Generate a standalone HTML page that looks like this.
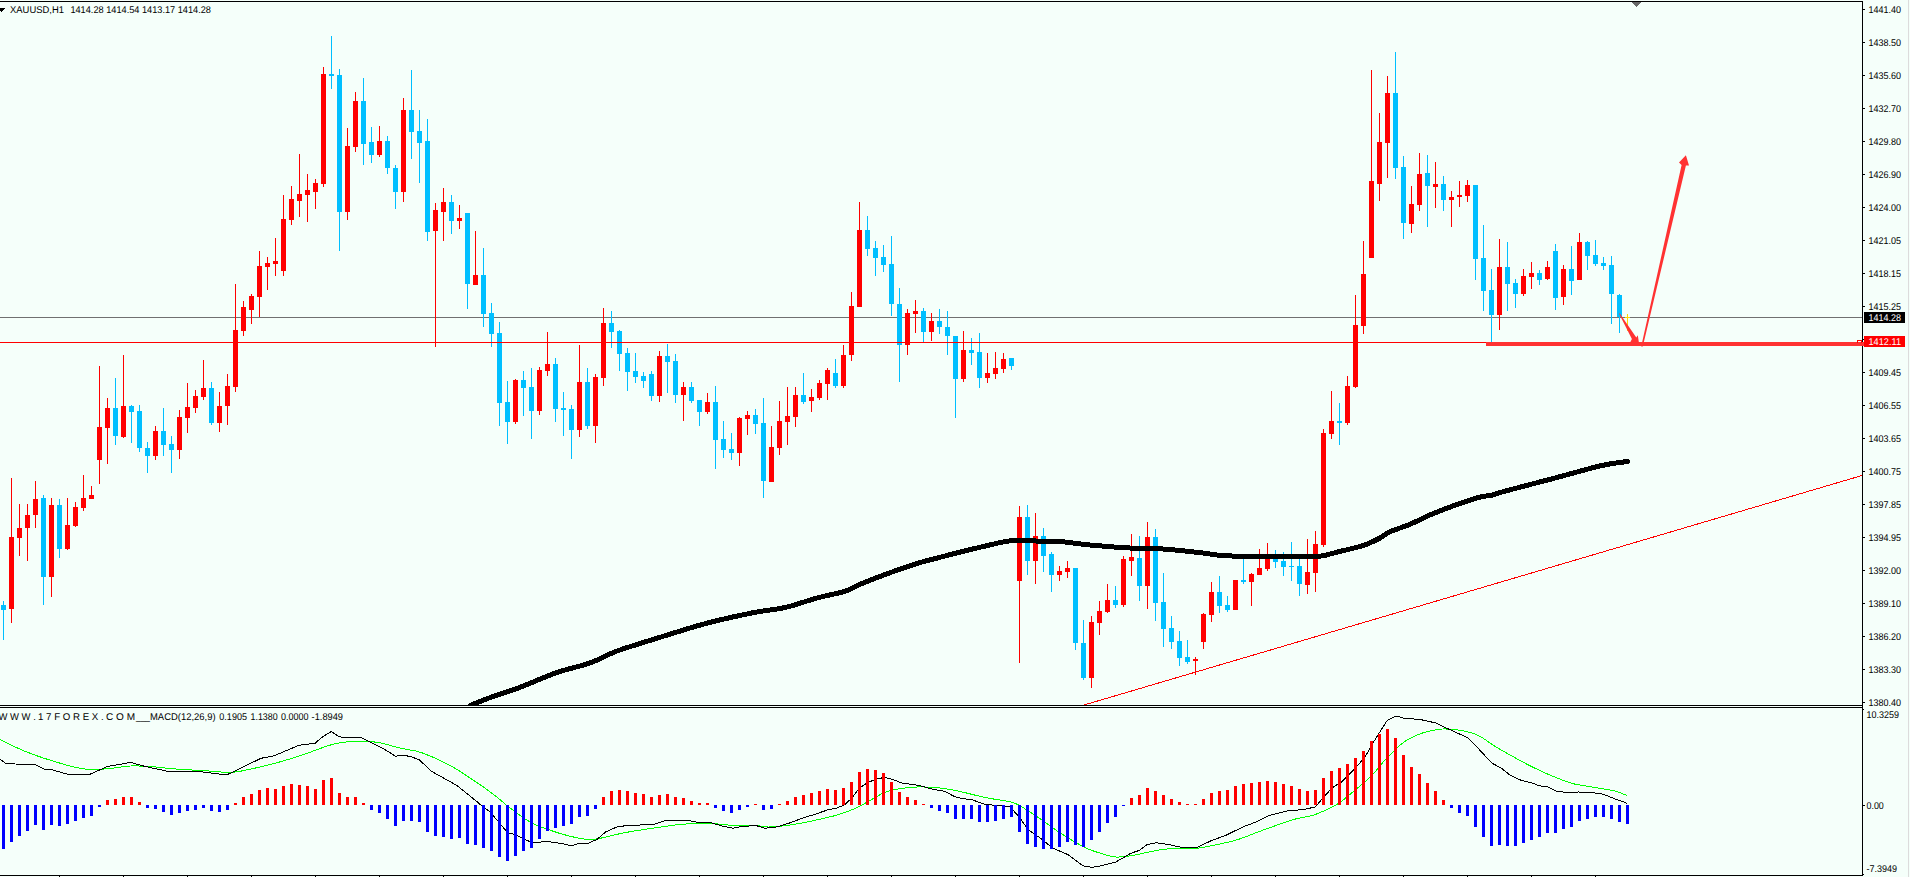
<!DOCTYPE html><html><head><meta charset="utf-8"><title>XAUUSD,H1</title>
<style>html,body{margin:0;padding:0;background:#F5FFFA;overflow:hidden}svg{display:block}text{font-family:"Liberation Sans",sans-serif;font-size:9.8px;text-rendering:geometricPrecision;fill:#000}</style></head><body>
<svg width="1910" height="877" viewBox="0 0 1910 877">
<rect width="1910" height="877" fill="#F5FFFA"/>
<g shape-rendering="crispEdges" fill="#000">
<rect x="0" y="1" width="1863" height="1"/>
<rect x="1862" y="1" width="1" height="875"/>
<rect x="0" y="705" width="1863" height="1"/>
<rect x="0" y="707" width="1863" height="1"/>
<rect x="0" y="875" width="1863" height="1"/>
<rect x="59" y="876" width="1" height="1"/>
<rect x="123" y="876" width="1" height="1"/>
<rect x="187" y="876" width="1" height="1"/>
<rect x="251" y="876" width="1" height="1"/>
<rect x="315" y="876" width="1" height="1"/>
<rect x="379" y="876" width="1" height="1"/>
<rect x="443" y="876" width="1" height="1"/>
<rect x="507" y="876" width="1" height="1"/>
<rect x="571" y="876" width="1" height="1"/>
<rect x="635" y="876" width="1" height="1"/>
<rect x="699" y="876" width="1" height="1"/>
<rect x="763" y="876" width="1" height="1"/>
<rect x="827" y="876" width="1" height="1"/>
<rect x="891" y="876" width="1" height="1"/>
<rect x="955" y="876" width="1" height="1"/>
<rect x="1019" y="876" width="1" height="1"/>
<rect x="1083" y="876" width="1" height="1"/>
<rect x="1147" y="876" width="1" height="1"/>
<rect x="1211" y="876" width="1" height="1"/>
<rect x="1275" y="876" width="1" height="1"/>
<rect x="1339" y="876" width="1" height="1"/>
<rect x="1403" y="876" width="1" height="1"/>
<rect x="1467" y="876" width="1" height="1"/>
<rect x="1531" y="876" width="1" height="1"/>
<rect x="1595" y="876" width="1" height="1"/>
<rect x="1863" y="9" width="2" height="1"/>
<rect x="1863" y="42" width="2" height="1"/>
<rect x="1863" y="75" width="2" height="1"/>
<rect x="1863" y="108" width="2" height="1"/>
<rect x="1863" y="141" width="2" height="1"/>
<rect x="1863" y="174" width="2" height="1"/>
<rect x="1863" y="207" width="2" height="1"/>
<rect x="1863" y="240" width="2" height="1"/>
<rect x="1863" y="273" width="2" height="1"/>
<rect x="1863" y="306" width="2" height="1"/>
<rect x="1863" y="372" width="2" height="1"/>
<rect x="1863" y="405" width="2" height="1"/>
<rect x="1863" y="438" width="2" height="1"/>
<rect x="1863" y="471" width="2" height="1"/>
<rect x="1863" y="504" width="2" height="1"/>
<rect x="1863" y="537" width="2" height="1"/>
<rect x="1863" y="570" width="2" height="1"/>
<rect x="1863" y="603" width="2" height="1"/>
<rect x="1863" y="636" width="2" height="1"/>
<rect x="1863" y="669" width="2" height="1"/>
<rect x="1863" y="702" width="2" height="1"/>
<rect x="1863" y="339" width="2" height="1"/>
<rect x="1863" y="805" width="2" height="1"/>
<rect x="1863" y="874" width="1" height="1"/>
<rect x="1863" y="709" width="1" height="1"/>
</g>
<rect x="1908" y="0" width="1" height="877" fill="#dcdcdc" shape-rendering="crispEdges"/>
<g shape-rendering="crispEdges">
<rect x="0" y="317" width="1862" height="1" fill="#707070"/>
</g>
<line x1="1084" y1="705" x2="1862" y2="475.5" stroke="#FF0000" stroke-width="1" shape-rendering="crispEdges"/>
<g shape-rendering="crispEdges">
<rect x="3" y="601" width="1" height="39" fill="#00BFFF"/>
<rect x="1" y="605" width="5" height="5" fill="#00BFFF"/>
<rect x="11" y="478" width="1" height="145" fill="#FF0000"/>
<rect x="9" y="537" width="5" height="72" fill="#FF0000"/>
<rect x="19" y="504" width="1" height="52" fill="#FF0000"/>
<rect x="17" y="528" width="5" height="10" fill="#FF0000"/>
<rect x="27" y="504" width="1" height="57" fill="#FF0000"/>
<rect x="25" y="515" width="5" height="13" fill="#FF0000"/>
<rect x="35" y="481" width="1" height="47" fill="#FF0000"/>
<rect x="33" y="499" width="5" height="16" fill="#FF0000"/>
<rect x="43" y="495" width="1" height="110" fill="#00BFFF"/>
<rect x="41" y="498" width="5" height="79" fill="#00BFFF"/>
<rect x="51" y="498" width="1" height="99" fill="#FF0000"/>
<rect x="49" y="505" width="5" height="72" fill="#FF0000"/>
<rect x="59" y="499" width="1" height="59" fill="#00BFFF"/>
<rect x="57" y="505" width="5" height="44" fill="#00BFFF"/>
<rect x="67" y="498" width="1" height="52" fill="#FF0000"/>
<rect x="65" y="525" width="5" height="24" fill="#FF0000"/>
<rect x="75" y="502" width="1" height="25" fill="#FF0000"/>
<rect x="73" y="507" width="5" height="19" fill="#FF0000"/>
<rect x="83" y="475" width="1" height="36" fill="#FF0000"/>
<rect x="81" y="498" width="5" height="10" fill="#FF0000"/>
<rect x="91" y="486" width="1" height="13" fill="#FF0000"/>
<rect x="89" y="495" width="5" height="4" fill="#FF0000"/>
<rect x="99" y="366" width="1" height="118" fill="#FF0000"/>
<rect x="97" y="427" width="5" height="33" fill="#FF0000"/>
<rect x="107" y="398" width="1" height="66" fill="#FF0000"/>
<rect x="105" y="408" width="5" height="20" fill="#FF0000"/>
<rect x="115" y="378" width="1" height="67" fill="#00BFFF"/>
<rect x="113" y="408" width="5" height="28" fill="#00BFFF"/>
<rect x="123" y="355" width="1" height="83" fill="#FF0000"/>
<rect x="121" y="406" width="5" height="31" fill="#FF0000"/>
<rect x="131" y="405" width="1" height="38" fill="#00BFFF"/>
<rect x="129" y="406" width="5" height="6" fill="#00BFFF"/>
<rect x="139" y="405" width="1" height="47" fill="#00BFFF"/>
<rect x="137" y="411" width="5" height="37" fill="#00BFFF"/>
<rect x="147" y="442" width="1" height="31" fill="#00BFFF"/>
<rect x="145" y="448" width="5" height="8" fill="#00BFFF"/>
<rect x="155" y="426" width="1" height="34" fill="#FF0000"/>
<rect x="153" y="431" width="5" height="25" fill="#FF0000"/>
<rect x="163" y="408" width="1" height="48" fill="#00BFFF"/>
<rect x="161" y="431" width="5" height="14" fill="#00BFFF"/>
<rect x="171" y="436" width="1" height="37" fill="#00BFFF"/>
<rect x="169" y="444" width="5" height="6" fill="#00BFFF"/>
<rect x="179" y="410" width="1" height="49" fill="#FF0000"/>
<rect x="177" y="417" width="5" height="33" fill="#FF0000"/>
<rect x="187" y="383" width="1" height="50" fill="#FF0000"/>
<rect x="185" y="407" width="5" height="11" fill="#FF0000"/>
<rect x="195" y="390" width="1" height="23" fill="#FF0000"/>
<rect x="193" y="396" width="5" height="12" fill="#FF0000"/>
<rect x="203" y="360" width="1" height="40" fill="#FF0000"/>
<rect x="201" y="388" width="5" height="9" fill="#FF0000"/>
<rect x="211" y="382" width="1" height="43" fill="#00BFFF"/>
<rect x="209" y="388" width="5" height="35" fill="#00BFFF"/>
<rect x="219" y="392" width="1" height="40" fill="#FF0000"/>
<rect x="217" y="406" width="5" height="17" fill="#FF0000"/>
<rect x="227" y="374" width="1" height="51" fill="#FF0000"/>
<rect x="225" y="386" width="5" height="20" fill="#FF0000"/>
<rect x="235" y="284" width="1" height="108" fill="#FF0000"/>
<rect x="233" y="330" width="5" height="57" fill="#FF0000"/>
<rect x="243" y="301" width="1" height="35" fill="#FF0000"/>
<rect x="241" y="307" width="5" height="24" fill="#FF0000"/>
<rect x="251" y="294" width="1" height="30" fill="#FF0000"/>
<rect x="249" y="296" width="5" height="14" fill="#FF0000"/>
<rect x="259" y="251" width="1" height="66" fill="#FF0000"/>
<rect x="257" y="266" width="5" height="31" fill="#FF0000"/>
<rect x="267" y="257" width="1" height="33" fill="#FF0000"/>
<rect x="265" y="263" width="5" height="4" fill="#FF0000"/>
<rect x="275" y="238" width="1" height="38" fill="#FF0000"/>
<rect x="273" y="261" width="5" height="3" fill="#FF0000"/>
<rect x="283" y="195" width="1" height="81" fill="#FF0000"/>
<rect x="281" y="219" width="5" height="52" fill="#FF0000"/>
<rect x="291" y="186" width="1" height="39" fill="#FF0000"/>
<rect x="289" y="199" width="5" height="21" fill="#FF0000"/>
<rect x="299" y="154" width="1" height="63" fill="#FF0000"/>
<rect x="297" y="194" width="5" height="7" fill="#FF0000"/>
<rect x="307" y="174" width="1" height="48" fill="#FF0000"/>
<rect x="305" y="190" width="5" height="5" fill="#FF0000"/>
<rect x="315" y="179" width="1" height="30" fill="#FF0000"/>
<rect x="313" y="183" width="5" height="9" fill="#FF0000"/>
<rect x="323" y="67" width="1" height="120" fill="#FF0000"/>
<rect x="321" y="74" width="5" height="110" fill="#FF0000"/>
<rect x="331" y="36" width="1" height="53" fill="#00BFFF"/>
<rect x="329" y="74" width="5" height="2" fill="#00BFFF"/>
<rect x="339" y="69" width="1" height="182" fill="#00BFFF"/>
<rect x="337" y="75" width="5" height="137" fill="#00BFFF"/>
<rect x="347" y="128" width="1" height="92" fill="#FF0000"/>
<rect x="345" y="146" width="5" height="66" fill="#FF0000"/>
<rect x="355" y="92" width="1" height="60" fill="#FF0000"/>
<rect x="353" y="101" width="5" height="46" fill="#FF0000"/>
<rect x="363" y="78" width="1" height="87" fill="#00BFFF"/>
<rect x="361" y="101" width="5" height="43" fill="#00BFFF"/>
<rect x="371" y="127" width="1" height="36" fill="#00BFFF"/>
<rect x="369" y="142" width="5" height="13" fill="#00BFFF"/>
<rect x="379" y="126" width="1" height="31" fill="#FF0000"/>
<rect x="377" y="141" width="5" height="14" fill="#FF0000"/>
<rect x="387" y="136" width="1" height="38" fill="#00BFFF"/>
<rect x="385" y="141" width="5" height="27" fill="#00BFFF"/>
<rect x="395" y="165" width="1" height="44" fill="#00BFFF"/>
<rect x="393" y="168" width="5" height="24" fill="#00BFFF"/>
<rect x="403" y="98" width="1" height="104" fill="#FF0000"/>
<rect x="401" y="110" width="5" height="82" fill="#FF0000"/>
<rect x="411" y="70" width="1" height="89" fill="#00BFFF"/>
<rect x="409" y="110" width="5" height="22" fill="#00BFFF"/>
<rect x="419" y="110" width="1" height="73" fill="#00BFFF"/>
<rect x="417" y="131" width="5" height="12" fill="#00BFFF"/>
<rect x="427" y="119" width="1" height="122" fill="#00BFFF"/>
<rect x="425" y="141" width="5" height="91" fill="#00BFFF"/>
<rect x="435" y="203" width="1" height="144" fill="#FF0000"/>
<rect x="433" y="210" width="5" height="21" fill="#FF0000"/>
<rect x="443" y="188" width="1" height="53" fill="#FF0000"/>
<rect x="441" y="202" width="5" height="10" fill="#FF0000"/>
<rect x="451" y="195" width="1" height="39" fill="#00BFFF"/>
<rect x="449" y="202" width="5" height="19" fill="#00BFFF"/>
<rect x="459" y="205" width="1" height="24" fill="#FF0000"/>
<rect x="457" y="218" width="5" height="3" fill="#FF0000"/>
<rect x="467" y="213" width="1" height="96" fill="#00BFFF"/>
<rect x="465" y="213" width="5" height="71" fill="#00BFFF"/>
<rect x="475" y="231" width="1" height="54" fill="#FF0000"/>
<rect x="473" y="275" width="5" height="10" fill="#FF0000"/>
<rect x="483" y="248" width="1" height="79" fill="#00BFFF"/>
<rect x="481" y="275" width="5" height="39" fill="#00BFFF"/>
<rect x="491" y="303" width="1" height="44" fill="#00BFFF"/>
<rect x="489" y="313" width="5" height="21" fill="#00BFFF"/>
<rect x="499" y="322" width="1" height="104" fill="#00BFFF"/>
<rect x="497" y="333" width="5" height="70" fill="#00BFFF"/>
<rect x="507" y="381" width="1" height="63" fill="#00BFFF"/>
<rect x="505" y="402" width="5" height="20" fill="#00BFFF"/>
<rect x="515" y="379" width="1" height="45" fill="#FF0000"/>
<rect x="513" y="380" width="5" height="42" fill="#FF0000"/>
<rect x="523" y="371" width="1" height="45" fill="#00BFFF"/>
<rect x="521" y="380" width="5" height="8" fill="#00BFFF"/>
<rect x="531" y="368" width="1" height="71" fill="#00BFFF"/>
<rect x="529" y="387" width="5" height="24" fill="#00BFFF"/>
<rect x="539" y="367" width="1" height="48" fill="#FF0000"/>
<rect x="537" y="370" width="5" height="41" fill="#FF0000"/>
<rect x="547" y="332" width="1" height="44" fill="#FF0000"/>
<rect x="545" y="364" width="5" height="7" fill="#FF0000"/>
<rect x="555" y="358" width="1" height="64" fill="#00BFFF"/>
<rect x="553" y="364" width="5" height="45" fill="#00BFFF"/>
<rect x="563" y="392" width="1" height="44" fill="#00BFFF"/>
<rect x="561" y="408" width="5" height="2" fill="#00BFFF"/>
<rect x="571" y="405" width="1" height="54" fill="#00BFFF"/>
<rect x="569" y="409" width="5" height="21" fill="#00BFFF"/>
<rect x="579" y="345" width="1" height="92" fill="#FF0000"/>
<rect x="577" y="382" width="5" height="48" fill="#FF0000"/>
<rect x="587" y="368" width="1" height="61" fill="#00BFFF"/>
<rect x="585" y="382" width="5" height="44" fill="#00BFFF"/>
<rect x="595" y="374" width="1" height="69" fill="#FF0000"/>
<rect x="593" y="377" width="5" height="49" fill="#FF0000"/>
<rect x="603" y="308" width="1" height="78" fill="#FF0000"/>
<rect x="601" y="323" width="5" height="55" fill="#FF0000"/>
<rect x="611" y="311" width="1" height="37" fill="#00BFFF"/>
<rect x="609" y="323" width="5" height="9" fill="#00BFFF"/>
<rect x="619" y="330" width="1" height="41" fill="#00BFFF"/>
<rect x="617" y="331" width="5" height="23" fill="#00BFFF"/>
<rect x="627" y="348" width="1" height="43" fill="#00BFFF"/>
<rect x="625" y="353" width="5" height="19" fill="#00BFFF"/>
<rect x="635" y="353" width="1" height="30" fill="#00BFFF"/>
<rect x="633" y="371" width="5" height="6" fill="#00BFFF"/>
<rect x="643" y="372" width="1" height="16" fill="#00BFFF"/>
<rect x="641" y="376" width="5" height="5" fill="#00BFFF"/>
<rect x="651" y="371" width="1" height="30" fill="#00BFFF"/>
<rect x="649" y="374" width="5" height="22" fill="#00BFFF"/>
<rect x="659" y="351" width="1" height="51" fill="#FF0000"/>
<rect x="657" y="356" width="5" height="40" fill="#FF0000"/>
<rect x="667" y="344" width="1" height="49" fill="#00BFFF"/>
<rect x="665" y="356" width="5" height="6" fill="#00BFFF"/>
<rect x="675" y="354" width="1" height="49" fill="#00BFFF"/>
<rect x="673" y="361" width="5" height="34" fill="#00BFFF"/>
<rect x="683" y="382" width="1" height="39" fill="#FF0000"/>
<rect x="681" y="387" width="5" height="8" fill="#FF0000"/>
<rect x="691" y="382" width="1" height="21" fill="#00BFFF"/>
<rect x="689" y="387" width="5" height="14" fill="#00BFFF"/>
<rect x="699" y="400" width="1" height="26" fill="#00BFFF"/>
<rect x="697" y="400" width="5" height="12" fill="#00BFFF"/>
<rect x="707" y="393" width="1" height="21" fill="#FF0000"/>
<rect x="705" y="402" width="5" height="10" fill="#FF0000"/>
<rect x="715" y="386" width="1" height="83" fill="#00BFFF"/>
<rect x="713" y="402" width="5" height="38" fill="#00BFFF"/>
<rect x="723" y="421" width="1" height="37" fill="#00BFFF"/>
<rect x="721" y="439" width="5" height="11" fill="#00BFFF"/>
<rect x="731" y="433" width="1" height="27" fill="#00BFFF"/>
<rect x="729" y="449" width="5" height="4" fill="#00BFFF"/>
<rect x="739" y="417" width="1" height="49" fill="#FF0000"/>
<rect x="737" y="418" width="5" height="35" fill="#FF0000"/>
<rect x="747" y="411" width="1" height="24" fill="#FF0000"/>
<rect x="745" y="415" width="5" height="4" fill="#FF0000"/>
<rect x="755" y="409" width="1" height="25" fill="#00BFFF"/>
<rect x="753" y="415" width="5" height="9" fill="#00BFFF"/>
<rect x="763" y="398" width="1" height="100" fill="#00BFFF"/>
<rect x="761" y="423" width="5" height="58" fill="#00BFFF"/>
<rect x="771" y="426" width="1" height="56" fill="#FF0000"/>
<rect x="769" y="447" width="5" height="35" fill="#FF0000"/>
<rect x="779" y="401" width="1" height="54" fill="#FF0000"/>
<rect x="777" y="421" width="5" height="27" fill="#FF0000"/>
<rect x="787" y="387" width="1" height="58" fill="#FF0000"/>
<rect x="785" y="416" width="5" height="6" fill="#FF0000"/>
<rect x="795" y="387" width="1" height="40" fill="#FF0000"/>
<rect x="793" y="395" width="5" height="22" fill="#FF0000"/>
<rect x="803" y="373" width="1" height="31" fill="#00BFFF"/>
<rect x="801" y="395" width="5" height="7" fill="#00BFFF"/>
<rect x="811" y="389" width="1" height="23" fill="#FF0000"/>
<rect x="809" y="397" width="5" height="4" fill="#FF0000"/>
<rect x="819" y="380" width="1" height="20" fill="#FF0000"/>
<rect x="817" y="383" width="5" height="15" fill="#FF0000"/>
<rect x="827" y="368" width="1" height="32" fill="#FF0000"/>
<rect x="825" y="370" width="5" height="14" fill="#FF0000"/>
<rect x="835" y="359" width="1" height="29" fill="#00BFFF"/>
<rect x="833" y="373" width="5" height="13" fill="#00BFFF"/>
<rect x="843" y="345" width="1" height="43" fill="#FF0000"/>
<rect x="841" y="355" width="5" height="31" fill="#FF0000"/>
<rect x="851" y="292" width="1" height="69" fill="#FF0000"/>
<rect x="849" y="306" width="5" height="49" fill="#FF0000"/>
<rect x="859" y="202" width="1" height="105" fill="#FF0000"/>
<rect x="857" y="230" width="5" height="77" fill="#FF0000"/>
<rect x="867" y="216" width="1" height="40" fill="#00BFFF"/>
<rect x="865" y="230" width="5" height="19" fill="#00BFFF"/>
<rect x="875" y="241" width="1" height="35" fill="#00BFFF"/>
<rect x="873" y="248" width="5" height="10" fill="#00BFFF"/>
<rect x="883" y="245" width="1" height="27" fill="#00BFFF"/>
<rect x="881" y="257" width="5" height="8" fill="#00BFFF"/>
<rect x="891" y="236" width="1" height="80" fill="#00BFFF"/>
<rect x="889" y="264" width="5" height="40" fill="#00BFFF"/>
<rect x="899" y="288" width="1" height="94" fill="#00BFFF"/>
<rect x="897" y="304" width="5" height="41" fill="#00BFFF"/>
<rect x="907" y="309" width="1" height="46" fill="#FF0000"/>
<rect x="905" y="313" width="5" height="32" fill="#FF0000"/>
<rect x="915" y="300" width="1" height="33" fill="#FF0000"/>
<rect x="913" y="311" width="5" height="3" fill="#FF0000"/>
<rect x="923" y="308" width="1" height="34" fill="#00BFFF"/>
<rect x="921" y="311" width="5" height="21" fill="#00BFFF"/>
<rect x="931" y="313" width="1" height="28" fill="#FF0000"/>
<rect x="929" y="321" width="5" height="11" fill="#FF0000"/>
<rect x="939" y="309" width="1" height="25" fill="#00BFFF"/>
<rect x="937" y="321" width="5" height="6" fill="#00BFFF"/>
<rect x="947" y="311" width="1" height="44" fill="#00BFFF"/>
<rect x="945" y="327" width="5" height="9" fill="#00BFFF"/>
<rect x="955" y="336" width="1" height="82" fill="#00BFFF"/>
<rect x="953" y="336" width="5" height="43" fill="#00BFFF"/>
<rect x="963" y="331" width="1" height="51" fill="#FF0000"/>
<rect x="961" y="350" width="5" height="29" fill="#FF0000"/>
<rect x="971" y="338" width="1" height="27" fill="#00BFFF"/>
<rect x="969" y="350" width="5" height="3" fill="#00BFFF"/>
<rect x="979" y="333" width="1" height="55" fill="#00BFFF"/>
<rect x="977" y="352" width="5" height="26" fill="#00BFFF"/>
<rect x="987" y="353" width="1" height="30" fill="#FF0000"/>
<rect x="985" y="373" width="5" height="5" fill="#FF0000"/>
<rect x="995" y="352" width="1" height="27" fill="#FF0000"/>
<rect x="993" y="368" width="5" height="6" fill="#FF0000"/>
<rect x="1003" y="353" width="1" height="20" fill="#FF0000"/>
<rect x="1001" y="359" width="5" height="10" fill="#FF0000"/>
<rect x="1011" y="358" width="1" height="12" fill="#00BFFF"/>
<rect x="1009" y="358" width="5" height="8" fill="#00BFFF"/>
<rect x="1019" y="506" width="1" height="157" fill="#FF0000"/>
<rect x="1017" y="517" width="5" height="64" fill="#FF0000"/>
<rect x="1027" y="505" width="1" height="70" fill="#00BFFF"/>
<rect x="1025" y="517" width="5" height="44" fill="#00BFFF"/>
<rect x="1035" y="513" width="1" height="71" fill="#FF0000"/>
<rect x="1033" y="536" width="5" height="25" fill="#FF0000"/>
<rect x="1043" y="528" width="1" height="44" fill="#00BFFF"/>
<rect x="1041" y="536" width="5" height="20" fill="#00BFFF"/>
<rect x="1051" y="552" width="1" height="40" fill="#00BFFF"/>
<rect x="1049" y="554" width="5" height="21" fill="#00BFFF"/>
<rect x="1059" y="566" width="1" height="15" fill="#FF0000"/>
<rect x="1057" y="571" width="5" height="4" fill="#FF0000"/>
<rect x="1067" y="561" width="1" height="17" fill="#FF0000"/>
<rect x="1065" y="568" width="5" height="4" fill="#FF0000"/>
<rect x="1075" y="568" width="1" height="82" fill="#00BFFF"/>
<rect x="1073" y="568" width="5" height="75" fill="#00BFFF"/>
<rect x="1083" y="620" width="1" height="60" fill="#00BFFF"/>
<rect x="1081" y="643" width="5" height="35" fill="#00BFFF"/>
<rect x="1091" y="616" width="1" height="72" fill="#FF0000"/>
<rect x="1089" y="622" width="5" height="56" fill="#FF0000"/>
<rect x="1099" y="601" width="1" height="34" fill="#FF0000"/>
<rect x="1097" y="611" width="5" height="12" fill="#FF0000"/>
<rect x="1107" y="584" width="1" height="29" fill="#FF0000"/>
<rect x="1105" y="600" width="5" height="12" fill="#FF0000"/>
<rect x="1115" y="586" width="1" height="22" fill="#00BFFF"/>
<rect x="1113" y="600" width="5" height="5" fill="#00BFFF"/>
<rect x="1123" y="556" width="1" height="51" fill="#FF0000"/>
<rect x="1121" y="559" width="5" height="46" fill="#FF0000"/>
<rect x="1131" y="534" width="1" height="42" fill="#FF0000"/>
<rect x="1129" y="557" width="5" height="4" fill="#FF0000"/>
<rect x="1139" y="536" width="1" height="65" fill="#00BFFF"/>
<rect x="1137" y="558" width="5" height="28" fill="#00BFFF"/>
<rect x="1147" y="522" width="1" height="87" fill="#FF0000"/>
<rect x="1145" y="537" width="5" height="49" fill="#FF0000"/>
<rect x="1155" y="529" width="1" height="92" fill="#00BFFF"/>
<rect x="1153" y="537" width="5" height="66" fill="#00BFFF"/>
<rect x="1163" y="573" width="1" height="74" fill="#00BFFF"/>
<rect x="1161" y="602" width="5" height="27" fill="#00BFFF"/>
<rect x="1171" y="616" width="1" height="33" fill="#00BFFF"/>
<rect x="1169" y="628" width="5" height="14" fill="#00BFFF"/>
<rect x="1179" y="631" width="1" height="35" fill="#00BFFF"/>
<rect x="1177" y="641" width="5" height="17" fill="#00BFFF"/>
<rect x="1187" y="640" width="1" height="24" fill="#00BFFF"/>
<rect x="1185" y="657" width="5" height="5" fill="#00BFFF"/>
<rect x="1195" y="657" width="1" height="18" fill="#FF0000"/>
<rect x="1193" y="659" width="5" height="2" fill="#FF0000"/>
<rect x="1203" y="613" width="1" height="36" fill="#FF0000"/>
<rect x="1201" y="614" width="5" height="28" fill="#FF0000"/>
<rect x="1211" y="582" width="1" height="40" fill="#FF0000"/>
<rect x="1209" y="592" width="5" height="23" fill="#FF0000"/>
<rect x="1219" y="576" width="1" height="37" fill="#00BFFF"/>
<rect x="1217" y="592" width="5" height="14" fill="#00BFFF"/>
<rect x="1227" y="596" width="1" height="16" fill="#00BFFF"/>
<rect x="1225" y="605" width="5" height="5" fill="#00BFFF"/>
<rect x="1235" y="580" width="1" height="30" fill="#FF0000"/>
<rect x="1233" y="580" width="5" height="30" fill="#FF0000"/>
<rect x="1243" y="558" width="1" height="26" fill="#00BFFF"/>
<rect x="1241" y="580" width="5" height="2" fill="#00BFFF"/>
<rect x="1251" y="573" width="1" height="33" fill="#FF0000"/>
<rect x="1249" y="574" width="5" height="8" fill="#FF0000"/>
<rect x="1259" y="549" width="1" height="26" fill="#FF0000"/>
<rect x="1257" y="568" width="5" height="7" fill="#FF0000"/>
<rect x="1267" y="543" width="1" height="28" fill="#FF0000"/>
<rect x="1265" y="558" width="5" height="11" fill="#FF0000"/>
<rect x="1275" y="550" width="1" height="18" fill="#00BFFF"/>
<rect x="1273" y="558" width="5" height="4" fill="#00BFFF"/>
<rect x="1283" y="552" width="1" height="24" fill="#00BFFF"/>
<rect x="1281" y="561" width="5" height="6" fill="#00BFFF"/>
<rect x="1291" y="542" width="1" height="39" fill="#00BFFF"/>
<rect x="1289" y="566" width="5" height="1" fill="#00BFFF"/>
<rect x="1299" y="558" width="1" height="38" fill="#00BFFF"/>
<rect x="1297" y="566" width="5" height="18" fill="#00BFFF"/>
<rect x="1307" y="539" width="1" height="55" fill="#FF0000"/>
<rect x="1305" y="572" width="5" height="13" fill="#FF0000"/>
<rect x="1315" y="531" width="1" height="61" fill="#FF0000"/>
<rect x="1313" y="544" width="5" height="29" fill="#FF0000"/>
<rect x="1323" y="429" width="1" height="118" fill="#FF0000"/>
<rect x="1321" y="433" width="5" height="112" fill="#FF0000"/>
<rect x="1331" y="391" width="1" height="48" fill="#FF0000"/>
<rect x="1329" y="421" width="5" height="13" fill="#FF0000"/>
<rect x="1339" y="403" width="1" height="42" fill="#00BFFF"/>
<rect x="1337" y="421" width="5" height="2" fill="#00BFFF"/>
<rect x="1347" y="376" width="1" height="49" fill="#FF0000"/>
<rect x="1345" y="386" width="5" height="37" fill="#FF0000"/>
<rect x="1355" y="295" width="1" height="93" fill="#FF0000"/>
<rect x="1353" y="325" width="5" height="62" fill="#FF0000"/>
<rect x="1363" y="241" width="1" height="93" fill="#FF0000"/>
<rect x="1361" y="274" width="5" height="52" fill="#FF0000"/>
<rect x="1371" y="70" width="1" height="188" fill="#FF0000"/>
<rect x="1369" y="181" width="5" height="77" fill="#FF0000"/>
<rect x="1379" y="113" width="1" height="88" fill="#FF0000"/>
<rect x="1377" y="142" width="5" height="42" fill="#FF0000"/>
<rect x="1387" y="76" width="1" height="102" fill="#FF0000"/>
<rect x="1385" y="93" width="5" height="50" fill="#FF0000"/>
<rect x="1395" y="52" width="1" height="127" fill="#00BFFF"/>
<rect x="1393" y="93" width="5" height="75" fill="#00BFFF"/>
<rect x="1403" y="156" width="1" height="83" fill="#00BFFF"/>
<rect x="1401" y="167" width="5" height="56" fill="#00BFFF"/>
<rect x="1411" y="186" width="1" height="47" fill="#FF0000"/>
<rect x="1409" y="204" width="5" height="20" fill="#FF0000"/>
<rect x="1419" y="153" width="1" height="58" fill="#FF0000"/>
<rect x="1417" y="174" width="5" height="31" fill="#FF0000"/>
<rect x="1427" y="155" width="1" height="72" fill="#00BFFF"/>
<rect x="1425" y="173" width="5" height="13" fill="#00BFFF"/>
<rect x="1435" y="162" width="1" height="46" fill="#FF0000"/>
<rect x="1433" y="184" width="5" height="3" fill="#FF0000"/>
<rect x="1443" y="176" width="1" height="35" fill="#00BFFF"/>
<rect x="1441" y="184" width="5" height="16" fill="#00BFFF"/>
<rect x="1451" y="191" width="1" height="36" fill="#FF0000"/>
<rect x="1449" y="197" width="5" height="3" fill="#FF0000"/>
<rect x="1459" y="181" width="1" height="26" fill="#FF0000"/>
<rect x="1457" y="195" width="5" height="2" fill="#FF0000"/>
<rect x="1467" y="180" width="1" height="22" fill="#FF0000"/>
<rect x="1465" y="185" width="5" height="11" fill="#FF0000"/>
<rect x="1475" y="185" width="1" height="95" fill="#00BFFF"/>
<rect x="1473" y="185" width="5" height="74" fill="#00BFFF"/>
<rect x="1483" y="225" width="1" height="86" fill="#00BFFF"/>
<rect x="1481" y="258" width="5" height="33" fill="#00BFFF"/>
<rect x="1491" y="269" width="1" height="73" fill="#00BFFF"/>
<rect x="1489" y="290" width="5" height="25" fill="#00BFFF"/>
<rect x="1499" y="239" width="1" height="91" fill="#FF0000"/>
<rect x="1497" y="267" width="5" height="48" fill="#FF0000"/>
<rect x="1507" y="242" width="1" height="69" fill="#00BFFF"/>
<rect x="1505" y="267" width="5" height="17" fill="#00BFFF"/>
<rect x="1515" y="279" width="1" height="29" fill="#00BFFF"/>
<rect x="1513" y="283" width="5" height="11" fill="#00BFFF"/>
<rect x="1523" y="269" width="1" height="27" fill="#FF0000"/>
<rect x="1521" y="276" width="5" height="18" fill="#FF0000"/>
<rect x="1531" y="262" width="1" height="27" fill="#FF0000"/>
<rect x="1529" y="273" width="5" height="4" fill="#FF0000"/>
<rect x="1539" y="270" width="1" height="15" fill="#00BFFF"/>
<rect x="1537" y="273" width="5" height="7" fill="#00BFFF"/>
<rect x="1547" y="261" width="1" height="19" fill="#FF0000"/>
<rect x="1545" y="267" width="5" height="12" fill="#FF0000"/>
<rect x="1555" y="244" width="1" height="66" fill="#00BFFF"/>
<rect x="1553" y="251" width="5" height="47" fill="#00BFFF"/>
<rect x="1563" y="265" width="1" height="40" fill="#FF0000"/>
<rect x="1561" y="269" width="5" height="28" fill="#FF0000"/>
<rect x="1571" y="246" width="1" height="49" fill="#00BFFF"/>
<rect x="1569" y="269" width="5" height="12" fill="#00BFFF"/>
<rect x="1579" y="233" width="1" height="47" fill="#FF0000"/>
<rect x="1577" y="242" width="5" height="38" fill="#FF0000"/>
<rect x="1587" y="241" width="1" height="29" fill="#00BFFF"/>
<rect x="1585" y="242" width="5" height="14" fill="#00BFFF"/>
<rect x="1595" y="240" width="1" height="26" fill="#00BFFF"/>
<rect x="1593" y="255" width="5" height="9" fill="#00BFFF"/>
<rect x="1603" y="257" width="1" height="13" fill="#00BFFF"/>
<rect x="1601" y="263" width="5" height="3" fill="#00BFFF"/>
<rect x="1611" y="256" width="1" height="68" fill="#00BFFF"/>
<rect x="1609" y="265" width="5" height="29" fill="#00BFFF"/>
<rect x="1619" y="294" width="1" height="39" fill="#00BFFF"/>
<rect x="1617" y="295" width="5" height="22" fill="#00BFFF"/>
<rect x="1627" y="314" width="1" height="17" fill="#FFD700"/>
<rect x="1625" y="317" width="5" height="1" fill="#FFD700"/>
</g>
<rect x="0" y="342" width="1487" height="1" fill="#FF0000" shape-rendering="crispEdges"/>
<path d="M470.0 705.5 C470.8 705.2 470.7 705.1 474.6 703.6 C478.5 702.1 486.1 699.0 493.4 696.4 C500.7 693.8 508.0 691.8 518.5 687.9 C529.0 684.0 544.2 677.0 556.2 672.8 C568.2 668.6 580.8 666.3 590.8 662.7 C600.8 659.1 604.5 655.6 616.0 651.4 C627.5 647.2 644.8 642.0 660.0 637.3 C675.2 632.6 691.3 627.3 707.0 623.2 C722.7 619.1 741.1 615.1 754.2 612.5 C767.3 609.9 775.1 609.8 785.6 607.4 C796.1 605.0 807.0 600.7 817.0 598.0 C827.0 595.3 837.5 593.7 845.3 591.1 C853.1 588.5 853.0 586.9 864.0 582.6 C875.0 578.3 898.2 569.6 911.3 565.3 C924.4 561.0 932.2 559.4 942.7 556.6 C953.2 553.8 963.5 551.2 974.0 548.7 C984.5 546.2 997.7 542.9 1005.5 541.5 C1013.3 540.1 1015.2 540.2 1021.0 540.2 C1026.8 540.2 1033.5 541.0 1040.0 541.2 C1046.5 541.4 1052.0 540.9 1060.0 541.5 C1068.0 542.1 1077.1 543.8 1088.0 544.8 C1098.9 545.8 1113.1 547.1 1125.6 547.8 C1138.1 548.5 1150.4 548.2 1163.0 549.0 C1175.6 549.8 1190.5 551.7 1201.0 552.8 C1211.5 553.9 1213.5 555.2 1226.0 555.8 C1238.5 556.4 1260.9 556.2 1276.0 556.3 C1291.1 556.4 1306.1 557.4 1316.6 556.6 C1327.1 555.8 1331.1 553.5 1339.0 551.6 C1346.9 549.7 1357.2 547.6 1364.0 545.3 C1370.8 543.0 1375.7 540.2 1380.0 538.0 C1384.3 535.8 1385.0 534.1 1390.0 531.8 C1395.0 529.5 1402.0 527.6 1410.0 524.3 C1418.0 520.9 1426.5 516.1 1437.8 511.7 C1449.1 507.2 1469.0 500.4 1478.0 497.6 C1487.0 494.9 1487.4 496.3 1492.0 495.2 C1496.6 494.1 1494.9 493.9 1505.6 491.0 C1516.2 488.1 1540.0 482.0 1555.9 477.8 C1571.8 473.6 1589.1 468.4 1601.0 465.7 C1612.9 463.0 1623.1 462.2 1627.5 461.5" fill="none" stroke="#000" stroke-width="5" stroke-linejoin="round" stroke-linecap="round" shape-rendering="crispEdges"/>
<rect x="440" y="706" width="60" height="1" fill="#F5FFFA"/>
<rect x="440" y="705" width="60" height="1" fill="#000" shape-rendering="crispEdges"/>
<rect x="440" y="707" width="60" height="1" fill="#000" shape-rendering="crispEdges"/>
<rect x="440" y="708" width="60" height="4" fill="#F5FFFA"/>
<rect x="1486" y="342" width="379" height="4" fill="#FF3232" shape-rendering="crispEdges"/>
<g shape-rendering="crispEdges" fill="#FF0000"><rect x="1857" y="340" width="5" height="1"/><rect x="1857" y="340" width="1" height="3"/><rect x="1861" y="340" width="1" height="3"/></g>
<polygon points="1641.2,346.5 1642.8,346.5 1685.9,165.6 1689,165.6 1685.9,155.2 1679,162.5 1681.6,165.1" fill="#FF3232"/>
<polygon points="1619,313.5 1619.8,313.5 1636.3,337.4 1637.8,335.2 1638.9,342.6 1630.4,342 1631.9,338.9" fill="#FF3232"/>
<g shape-rendering="crispEdges">
<rect x="1864" y="312" width="41" height="11" fill="#000"/>
<rect x="1864" y="336" width="41" height="11" fill="#FF0000"/>
</g>
<path d="M0.0 739.7 C3.8 741.5 15.5 747.3 22.6 750.3 C29.7 753.3 33.9 754.9 42.7 757.8 C51.5 760.6 67.0 765.4 75.4 767.4 C83.8 769.4 87.2 769.4 93.0 769.6 C98.8 769.8 104.2 769.0 110.5 768.4 C116.8 767.8 124.0 766.3 130.7 766.0 C137.4 765.7 143.1 766.1 150.7 766.6 C158.2 767.1 166.4 768.3 176.0 769.0 C185.6 769.7 199.3 770.4 208.5 771.0 C217.7 771.6 223.9 772.7 231.0 772.4 C238.1 772.1 243.4 770.6 251.0 769.0 C258.6 767.4 268.0 765.2 276.4 762.9 C284.8 760.6 291.9 758.4 301.5 755.3 C311.1 752.1 324.8 746.3 334.0 744.0 C343.2 741.7 349.6 741.6 356.8 741.3 C364.0 741.0 369.5 741.1 377.0 742.3 C384.5 743.5 394.5 746.8 402.0 748.5 C409.5 750.2 413.7 749.8 422.0 752.8 C430.3 755.8 442.6 761.5 452.0 766.6 C461.4 771.8 471.4 778.9 478.6 783.7 C485.8 788.5 489.8 791.5 495.0 795.5 C500.2 799.5 504.2 803.6 510.0 808.0 C515.8 812.4 523.7 818.4 530.0 822.0 C536.3 825.6 541.5 827.1 547.8 829.4 C554.1 831.7 561.3 834.0 568.0 835.7 C574.7 837.4 582.6 839.1 588.0 839.5 C593.4 839.9 594.3 839.4 600.6 838.2 C606.9 837.0 616.5 834.2 625.7 832.5 C634.9 830.8 646.7 829.1 655.9 827.7 C665.1 826.4 672.6 825.1 681.0 824.4 C689.4 823.6 697.7 823.1 706.0 823.2 C714.3 823.3 722.6 824.8 731.0 825.2 C739.4 825.6 750.1 825.4 756.4 825.7 C762.7 826.0 762.7 827.2 769.0 827.0 C775.3 826.8 785.7 825.7 794.0 824.4 C802.3 823.1 811.5 821.1 819.0 819.4 C826.5 817.7 833.0 816.4 839.3 814.4 C845.6 812.4 851.5 810.1 857.0 807.6 C862.5 805.1 867.4 801.8 872.0 799.3 C876.6 796.8 880.3 794.2 884.5 792.5 C888.7 790.8 891.6 790.1 897.0 789.2 C902.4 788.3 909.9 787.2 917.0 787.0 C924.1 786.8 932.6 787.2 939.8 788.0 C947.0 788.8 952.5 789.9 960.0 791.5 C967.5 793.1 976.2 795.6 985.0 797.5 C993.8 799.4 1005.7 800.4 1012.8 802.6 C1019.9 804.8 1022.8 807.6 1027.8 810.6 C1032.8 813.6 1037.5 816.9 1043.0 820.7 C1048.5 824.5 1053.4 828.7 1060.5 833.2 C1067.6 837.7 1078.9 844.4 1085.6 847.8 C1092.3 851.1 1095.7 851.8 1100.7 853.3 C1105.7 854.8 1110.8 856.6 1115.8 857.0 C1120.8 857.4 1124.9 856.7 1130.8 855.8 C1136.7 854.9 1144.7 852.8 1151.0 851.6 C1157.3 850.4 1161.0 849.3 1168.5 848.8 C1176.0 848.2 1188.9 848.8 1196.0 848.3 C1203.1 847.8 1204.3 847.2 1211.0 845.8 C1217.7 844.4 1228.0 842.5 1236.4 840.0 C1244.8 837.5 1251.9 834.1 1261.5 830.7 C1271.1 827.3 1285.2 822.0 1294.0 819.4 C1302.8 816.8 1306.8 817.5 1314.0 815.0 C1321.2 812.5 1330.2 808.4 1337.0 804.3 C1343.8 800.2 1348.7 795.3 1354.5 790.5 C1360.3 785.7 1366.6 780.9 1372.0 775.4 C1377.4 769.9 1381.5 763.4 1387.0 757.8 C1392.5 752.1 1399.2 745.5 1404.7 741.5 C1410.2 737.5 1415.6 735.8 1419.8 734.0 C1424.0 732.2 1426.2 731.8 1430.0 731.0 C1433.8 730.2 1437.6 729.1 1442.6 729.0 C1447.6 728.9 1454.2 729.2 1460.0 730.2 C1465.8 731.2 1471.8 732.5 1477.7 735.2 C1483.6 737.9 1489.4 742.9 1495.3 746.5 C1501.2 750.1 1507.1 753.4 1513.0 756.6 C1518.9 759.9 1524.7 763.1 1530.5 766.0 C1536.3 768.9 1541.3 771.4 1548.0 774.2 C1554.7 777.0 1564.4 781.0 1570.7 783.0 C1577.0 785.0 1580.8 785.1 1585.8 786.0 C1590.8 786.9 1595.9 787.6 1600.9 788.5 C1605.9 789.4 1611.7 790.1 1616.0 791.3 C1620.3 792.5 1625.2 794.8 1627.0 795.5" fill="none" stroke="#00FF00" stroke-width="1" shape-rendering="crispEdges"/>
<path d="M0.0 759.0 L5.0 763.0 L15.0 764.0 L35.0 764.4 L44.0 769.0 L53.0 770.0 L66.6 774.0 L90.5 774.0 L107.0 766.6 L130.7 762.4 L145.7 766.6 L171.0 772.0 L201.0 771.7 L218.6 774.0 L228.6 774.0 L261.0 758.3 L274.0 755.8 L299.0 745.3 L315.0 743.3 L323.0 736.5 L331.4 731.5 L339.0 736.7 L346.7 737.7 L354.0 737.0 L362.0 738.0 L382.0 747.8 L395.7 756.3 L403.0 755.0 L412.0 757.0 L419.6 760.0 L431.0 771.0 L457.0 785.5 L478.6 803.0 L480.0 804.3 L490.0 811.9 L497.6 820.7 L507.6 832.7 L515.0 834.5 L527.7 840.8 L534.0 842.5 L547.8 841.5 L560.4 843.3 L571.7 845.8 L579.2 843.3 L588.0 843.3 L596.8 839.5 L605.6 832.0 L617.0 826.9 L625.7 825.7 L653.4 824.4 L667.0 820.0 L674.7 821.0 L684.8 820.0 L698.6 822.4 L711.0 822.7 L721.0 825.7 L732.5 828.2 L743.8 826.2 L756.4 825.7 L765.0 828.2 L776.5 827.0 L789.0 823.2 L804.0 817.6 L814.0 814.6 L828.0 809.8 L836.8 808.0 L844.3 805.0 L851.9 798.0 L859.4 788.0 L868.0 782.5 L875.7 779.2 L884.5 777.4 L892.0 779.2 L902.0 783.0 L919.7 785.5 L932.3 789.2 L944.8 791.3 L954.9 796.8 L960.0 798.0 L972.6 800.0 L985.0 804.3 L1010.0 806.8 L1020.0 818.0 L1027.8 829.4 L1040.4 838.2 L1053.0 848.3 L1068.0 854.6 L1083.0 865.9 L1092.0 867.4 L1100.7 865.9 L1115.8 862.0 L1130.8 853.3 L1139.6 850.3 L1147.0 844.5 L1156.0 842.8 L1168.5 844.5 L1183.6 847.8 L1196.0 847.8 L1211.0 840.8 L1226.0 835.2 L1244.0 826.4 L1256.5 821.9 L1269.0 815.6 L1289.0 810.6 L1304.0 809.6 L1315.5 806.8 L1323.0 798.0 L1331.9 788.0 L1341.9 781.7 L1352.0 771.7 L1364.5 757.8 L1374.6 740.3 L1387.0 720.7 L1396.0 715.9 L1404.7 718.4 L1419.8 719.4 L1432.4 722.2 L1435.0 722.7 L1450.0 729.7 L1467.7 737.7 L1480.0 750.3 L1491.6 762.9 L1501.6 768.4 L1510.4 775.4 L1521.7 780.5 L1530.5 782.5 L1539.3 785.7 L1548.0 787.0 L1555.6 791.0 L1570.7 793.0 L1578.0 792.0 L1590.8 792.3 L1603.4 794.3 L1616.0 799.3 L1623.5 801.8 L1627.0 803.6" fill="none" stroke="#000" stroke-width="1" shape-rendering="crispEdges"/>
<g shape-rendering="crispEdges">
<rect x="2" y="805" width="3" height="44" fill="#0000FF"/>
<rect x="10" y="805" width="3" height="37" fill="#0000FF"/>
<rect x="18" y="805" width="3" height="31" fill="#0000FF"/>
<rect x="26" y="805" width="3" height="26" fill="#0000FF"/>
<rect x="34" y="805" width="3" height="20" fill="#0000FF"/>
<rect x="42" y="805" width="3" height="25" fill="#0000FF"/>
<rect x="50" y="805" width="3" height="20" fill="#0000FF"/>
<rect x="58" y="805" width="3" height="21" fill="#0000FF"/>
<rect x="66" y="805" width="3" height="19" fill="#0000FF"/>
<rect x="74" y="805" width="3" height="16" fill="#0000FF"/>
<rect x="82" y="805" width="3" height="13" fill="#0000FF"/>
<rect x="90" y="805" width="3" height="11" fill="#0000FF"/>
<rect x="98" y="805" width="3" height="2" fill="#0000FF"/>
<rect x="106" y="800" width="3" height="5" fill="#FF0000"/>
<rect x="114" y="799" width="3" height="6" fill="#FF0000"/>
<rect x="122" y="797" width="3" height="8" fill="#FF0000"/>
<rect x="130" y="797" width="3" height="8" fill="#FF0000"/>
<rect x="138" y="802" width="3" height="3" fill="#FF0000"/>
<rect x="146" y="805" width="3" height="3" fill="#0000FF"/>
<rect x="154" y="805" width="3" height="4" fill="#0000FF"/>
<rect x="162" y="805" width="3" height="7" fill="#0000FF"/>
<rect x="170" y="805" width="3" height="10" fill="#0000FF"/>
<rect x="178" y="805" width="3" height="8" fill="#0000FF"/>
<rect x="186" y="805" width="3" height="6" fill="#0000FF"/>
<rect x="194" y="805" width="3" height="5" fill="#0000FF"/>
<rect x="202" y="805" width="3" height="3" fill="#0000FF"/>
<rect x="210" y="805" width="3" height="6" fill="#0000FF"/>
<rect x="218" y="805" width="3" height="7" fill="#0000FF"/>
<rect x="226" y="805" width="3" height="5" fill="#0000FF"/>
<rect x="234" y="803" width="3" height="2" fill="#FF0000"/>
<rect x="242" y="797" width="3" height="8" fill="#FF0000"/>
<rect x="250" y="794" width="3" height="11" fill="#FF0000"/>
<rect x="258" y="790" width="3" height="15" fill="#FF0000"/>
<rect x="266" y="788" width="3" height="17" fill="#FF0000"/>
<rect x="274" y="789" width="3" height="16" fill="#FF0000"/>
<rect x="282" y="786" width="3" height="19" fill="#FF0000"/>
<rect x="290" y="784" width="3" height="21" fill="#FF0000"/>
<rect x="298" y="785" width="3" height="20" fill="#FF0000"/>
<rect x="306" y="786" width="3" height="19" fill="#FF0000"/>
<rect x="314" y="789" width="3" height="16" fill="#FF0000"/>
<rect x="322" y="780" width="3" height="25" fill="#FF0000"/>
<rect x="330" y="778" width="3" height="27" fill="#FF0000"/>
<rect x="338" y="793" width="3" height="12" fill="#FF0000"/>
<rect x="346" y="797" width="3" height="8" fill="#FF0000"/>
<rect x="354" y="797" width="3" height="8" fill="#FF0000"/>
<rect x="362" y="803" width="3" height="2" fill="#FF0000"/>
<rect x="370" y="805" width="3" height="5" fill="#0000FF"/>
<rect x="378" y="805" width="3" height="8" fill="#0000FF"/>
<rect x="386" y="805" width="3" height="14" fill="#0000FF"/>
<rect x="394" y="805" width="3" height="21" fill="#0000FF"/>
<rect x="402" y="805" width="3" height="16" fill="#0000FF"/>
<rect x="410" y="805" width="3" height="16" fill="#0000FF"/>
<rect x="418" y="805" width="3" height="17" fill="#0000FF"/>
<rect x="426" y="805" width="3" height="27" fill="#0000FF"/>
<rect x="434" y="805" width="3" height="31" fill="#0000FF"/>
<rect x="442" y="805" width="3" height="32" fill="#0000FF"/>
<rect x="450" y="805" width="3" height="34" fill="#0000FF"/>
<rect x="458" y="805" width="3" height="33" fill="#0000FF"/>
<rect x="466" y="805" width="3" height="39" fill="#0000FF"/>
<rect x="474" y="805" width="3" height="40" fill="#0000FF"/>
<rect x="482" y="805" width="3" height="43" fill="#0000FF"/>
<rect x="490" y="805" width="3" height="46" fill="#0000FF"/>
<rect x="498" y="805" width="3" height="52" fill="#0000FF"/>
<rect x="506" y="805" width="3" height="56" fill="#0000FF"/>
<rect x="514" y="805" width="3" height="51" fill="#0000FF"/>
<rect x="522" y="805" width="3" height="46" fill="#0000FF"/>
<rect x="530" y="805" width="3" height="43" fill="#0000FF"/>
<rect x="538" y="805" width="3" height="34" fill="#0000FF"/>
<rect x="546" y="805" width="3" height="26" fill="#0000FF"/>
<rect x="554" y="805" width="3" height="23" fill="#0000FF"/>
<rect x="562" y="805" width="3" height="21" fill="#0000FF"/>
<rect x="570" y="805" width="3" height="19" fill="#0000FF"/>
<rect x="578" y="805" width="3" height="12" fill="#0000FF"/>
<rect x="586" y="805" width="3" height="11" fill="#0000FF"/>
<rect x="594" y="805" width="3" height="4" fill="#0000FF"/>
<rect x="602" y="797" width="3" height="8" fill="#FF0000"/>
<rect x="610" y="791" width="3" height="14" fill="#FF0000"/>
<rect x="618" y="790" width="3" height="15" fill="#FF0000"/>
<rect x="626" y="791" width="3" height="14" fill="#FF0000"/>
<rect x="634" y="793" width="3" height="12" fill="#FF0000"/>
<rect x="642" y="794" width="3" height="11" fill="#FF0000"/>
<rect x="650" y="797" width="3" height="8" fill="#FF0000"/>
<rect x="658" y="795" width="3" height="10" fill="#FF0000"/>
<rect x="666" y="794" width="3" height="11" fill="#FF0000"/>
<rect x="674" y="797" width="3" height="8" fill="#FF0000"/>
<rect x="682" y="798" width="3" height="7" fill="#FF0000"/>
<rect x="690" y="801" width="3" height="4" fill="#FF0000"/>
<rect x="698" y="803" width="3" height="2" fill="#FF0000"/>
<rect x="706" y="803" width="3" height="2" fill="#FF0000"/>
<rect x="714" y="805" width="3" height="3" fill="#0000FF"/>
<rect x="722" y="805" width="3" height="6" fill="#0000FF"/>
<rect x="730" y="805" width="3" height="8" fill="#0000FF"/>
<rect x="738" y="805" width="3" height="5" fill="#0000FF"/>
<rect x="746" y="805" width="3" height="2" fill="#0000FF"/>
<rect x="754" y="804" width="3" height="1" fill="#FF0000"/>
<rect x="762" y="805" width="3" height="5" fill="#0000FF"/>
<rect x="770" y="805" width="3" height="4" fill="#0000FF"/>
<rect x="778" y="804" width="3" height="1" fill="#FF0000"/>
<rect x="786" y="801" width="3" height="4" fill="#FF0000"/>
<rect x="794" y="797" width="3" height="8" fill="#FF0000"/>
<rect x="802" y="795" width="3" height="10" fill="#FF0000"/>
<rect x="810" y="793" width="3" height="12" fill="#FF0000"/>
<rect x="818" y="791" width="3" height="14" fill="#FF0000"/>
<rect x="826" y="789" width="3" height="16" fill="#FF0000"/>
<rect x="834" y="790" width="3" height="15" fill="#FF0000"/>
<rect x="842" y="788" width="3" height="17" fill="#FF0000"/>
<rect x="850" y="782" width="3" height="23" fill="#FF0000"/>
<rect x="858" y="772" width="3" height="33" fill="#FF0000"/>
<rect x="866" y="769" width="3" height="36" fill="#FF0000"/>
<rect x="874" y="770" width="3" height="35" fill="#FF0000"/>
<rect x="882" y="773" width="3" height="32" fill="#FF0000"/>
<rect x="890" y="782" width="3" height="23" fill="#FF0000"/>
<rect x="898" y="792" width="3" height="13" fill="#FF0000"/>
<rect x="906" y="797" width="3" height="8" fill="#FF0000"/>
<rect x="914" y="800" width="3" height="5" fill="#FF0000"/>
<rect x="922" y="804" width="3" height="1" fill="#FF0000"/>
<rect x="930" y="805" width="3" height="3" fill="#0000FF"/>
<rect x="938" y="805" width="3" height="6" fill="#0000FF"/>
<rect x="946" y="805" width="3" height="8" fill="#0000FF"/>
<rect x="954" y="805" width="3" height="14" fill="#0000FF"/>
<rect x="962" y="805" width="3" height="14" fill="#0000FF"/>
<rect x="970" y="805" width="3" height="14" fill="#0000FF"/>
<rect x="978" y="805" width="3" height="17" fill="#0000FF"/>
<rect x="986" y="805" width="3" height="17" fill="#0000FF"/>
<rect x="994" y="805" width="3" height="16" fill="#0000FF"/>
<rect x="1002" y="805" width="3" height="14" fill="#0000FF"/>
<rect x="1010" y="805" width="3" height="12" fill="#0000FF"/>
<rect x="1018" y="805" width="3" height="27" fill="#0000FF"/>
<rect x="1026" y="805" width="3" height="39" fill="#0000FF"/>
<rect x="1034" y="805" width="3" height="42" fill="#0000FF"/>
<rect x="1042" y="805" width="3" height="44" fill="#0000FF"/>
<rect x="1050" y="805" width="3" height="44" fill="#0000FF"/>
<rect x="1058" y="805" width="3" height="42" fill="#0000FF"/>
<rect x="1066" y="805" width="3" height="37" fill="#0000FF"/>
<rect x="1074" y="805" width="3" height="40" fill="#0000FF"/>
<rect x="1082" y="805" width="3" height="42" fill="#0000FF"/>
<rect x="1090" y="805" width="3" height="35" fill="#0000FF"/>
<rect x="1098" y="805" width="3" height="27" fill="#0000FF"/>
<rect x="1106" y="805" width="3" height="18" fill="#0000FF"/>
<rect x="1114" y="805" width="3" height="12" fill="#0000FF"/>
<rect x="1122" y="805" width="3" height="1" fill="#0000FF"/>
<rect x="1130" y="798" width="3" height="7" fill="#FF0000"/>
<rect x="1138" y="795" width="3" height="10" fill="#FF0000"/>
<rect x="1146" y="788" width="3" height="17" fill="#FF0000"/>
<rect x="1154" y="791" width="3" height="14" fill="#FF0000"/>
<rect x="1162" y="795" width="3" height="10" fill="#FF0000"/>
<rect x="1170" y="799" width="3" height="6" fill="#FF0000"/>
<rect x="1178" y="802" width="3" height="3" fill="#FF0000"/>
<rect x="1186" y="804" width="3" height="1" fill="#FF0000"/>
<rect x="1194" y="804" width="3" height="1" fill="#FF0000"/>
<rect x="1202" y="799" width="3" height="6" fill="#FF0000"/>
<rect x="1210" y="793" width="3" height="12" fill="#FF0000"/>
<rect x="1218" y="791" width="3" height="14" fill="#FF0000"/>
<rect x="1226" y="790" width="3" height="15" fill="#FF0000"/>
<rect x="1234" y="786" width="3" height="19" fill="#FF0000"/>
<rect x="1242" y="784" width="3" height="21" fill="#FF0000"/>
<rect x="1250" y="783" width="3" height="22" fill="#FF0000"/>
<rect x="1258" y="782" width="3" height="23" fill="#FF0000"/>
<rect x="1266" y="781" width="3" height="24" fill="#FF0000"/>
<rect x="1274" y="782" width="3" height="23" fill="#FF0000"/>
<rect x="1282" y="784" width="3" height="21" fill="#FF0000"/>
<rect x="1290" y="786" width="3" height="19" fill="#FF0000"/>
<rect x="1298" y="789" width="3" height="16" fill="#FF0000"/>
<rect x="1306" y="791" width="3" height="14" fill="#FF0000"/>
<rect x="1314" y="790" width="3" height="15" fill="#FF0000"/>
<rect x="1322" y="778" width="3" height="27" fill="#FF0000"/>
<rect x="1330" y="771" width="3" height="34" fill="#FF0000"/>
<rect x="1338" y="768" width="3" height="37" fill="#FF0000"/>
<rect x="1346" y="764" width="3" height="41" fill="#FF0000"/>
<rect x="1354" y="758" width="3" height="47" fill="#FF0000"/>
<rect x="1362" y="751" width="3" height="54" fill="#FF0000"/>
<rect x="1370" y="741" width="3" height="64" fill="#FF0000"/>
<rect x="1378" y="734" width="3" height="71" fill="#FF0000"/>
<rect x="1386" y="729" width="3" height="76" fill="#FF0000"/>
<rect x="1394" y="738" width="3" height="67" fill="#FF0000"/>
<rect x="1402" y="755" width="3" height="50" fill="#FF0000"/>
<rect x="1410" y="767" width="3" height="38" fill="#FF0000"/>
<rect x="1418" y="774" width="3" height="31" fill="#FF0000"/>
<rect x="1426" y="783" width="3" height="22" fill="#FF0000"/>
<rect x="1434" y="791" width="3" height="14" fill="#FF0000"/>
<rect x="1442" y="800" width="3" height="5" fill="#FF0000"/>
<rect x="1450" y="805" width="3" height="3" fill="#0000FF"/>
<rect x="1458" y="805" width="3" height="8" fill="#0000FF"/>
<rect x="1466" y="805" width="3" height="11" fill="#0000FF"/>
<rect x="1474" y="805" width="3" height="22" fill="#0000FF"/>
<rect x="1482" y="805" width="3" height="32" fill="#0000FF"/>
<rect x="1490" y="805" width="3" height="41" fill="#0000FF"/>
<rect x="1498" y="805" width="3" height="40" fill="#0000FF"/>
<rect x="1506" y="805" width="3" height="41" fill="#0000FF"/>
<rect x="1514" y="805" width="3" height="41" fill="#0000FF"/>
<rect x="1522" y="805" width="3" height="38" fill="#0000FF"/>
<rect x="1530" y="805" width="3" height="35" fill="#0000FF"/>
<rect x="1538" y="805" width="3" height="32" fill="#0000FF"/>
<rect x="1546" y="805" width="3" height="28" fill="#0000FF"/>
<rect x="1554" y="805" width="3" height="28" fill="#0000FF"/>
<rect x="1562" y="805" width="3" height="24" fill="#0000FF"/>
<rect x="1570" y="805" width="3" height="22" fill="#0000FF"/>
<rect x="1578" y="805" width="3" height="16" fill="#0000FF"/>
<rect x="1586" y="805" width="3" height="14" fill="#0000FF"/>
<rect x="1594" y="805" width="3" height="12" fill="#0000FF"/>
<rect x="1602" y="805" width="3" height="12" fill="#0000FF"/>
<rect x="1610" y="805" width="3" height="14" fill="#0000FF"/>
<rect x="1618" y="805" width="3" height="17" fill="#0000FF"/>
<rect x="1626" y="805" width="3" height="19" fill="#0000FF"/>
</g>
<g shape-rendering="crispEdges" fill="#000"><rect x="0" y="8" width="5" height="1"/><rect x="0" y="9" width="4" height="1"/><rect x="0" y="10" width="3" height="1"/><rect x="1" y="11" width="1" height="1"/></g>
<g shape-rendering="crispEdges" fill="#696969"><rect x="1632" y="2" width="9" height="1"/><rect x="1633" y="3" width="7" height="1"/><rect x="1634" y="4" width="5" height="1"/><rect x="1635" y="5" width="3" height="1"/><rect x="1636" y="6" width="1" height="1"/></g>
<text x="10" y="12.9" textLength="54" lengthAdjust="spacingAndGlyphs">XAUUSD,H1</text>
<text x="70.4" y="12.9" textLength="140.6" lengthAdjust="spacingAndGlyphs">1414.28 1414.54 1413.17 1414.28</text>
<text x="1868.5" y="13" textLength="32.5" lengthAdjust="spacingAndGlyphs">1441.40</text>
<text x="1868.5" y="46" textLength="32.5" lengthAdjust="spacingAndGlyphs">1438.50</text>
<text x="1868.5" y="79" textLength="32.5" lengthAdjust="spacingAndGlyphs">1435.60</text>
<text x="1868.5" y="112" textLength="32.5" lengthAdjust="spacingAndGlyphs">1432.70</text>
<text x="1868.5" y="145" textLength="32.5" lengthAdjust="spacingAndGlyphs">1429.80</text>
<text x="1868.5" y="178" textLength="32.5" lengthAdjust="spacingAndGlyphs">1426.90</text>
<text x="1868.5" y="211" textLength="32.5" lengthAdjust="spacingAndGlyphs">1424.00</text>
<text x="1868.5" y="244" textLength="32.5" lengthAdjust="spacingAndGlyphs">1421.05</text>
<text x="1868.5" y="277" textLength="32.5" lengthAdjust="spacingAndGlyphs">1418.15</text>
<text x="1868.5" y="310" textLength="32.5" lengthAdjust="spacingAndGlyphs">1415.25</text>
<text x="1868.5" y="376" textLength="32.5" lengthAdjust="spacingAndGlyphs">1409.45</text>
<text x="1868.5" y="409" textLength="32.5" lengthAdjust="spacingAndGlyphs">1406.55</text>
<text x="1868.5" y="442" textLength="32.5" lengthAdjust="spacingAndGlyphs">1403.65</text>
<text x="1868.5" y="475" textLength="32.5" lengthAdjust="spacingAndGlyphs">1400.75</text>
<text x="1868.5" y="508" textLength="32.5" lengthAdjust="spacingAndGlyphs">1397.85</text>
<text x="1868.5" y="541" textLength="32.5" lengthAdjust="spacingAndGlyphs">1394.95</text>
<text x="1868.5" y="574" textLength="32.5" lengthAdjust="spacingAndGlyphs">1392.00</text>
<text x="1868.5" y="607" textLength="32.5" lengthAdjust="spacingAndGlyphs">1389.10</text>
<text x="1868.5" y="640" textLength="32.5" lengthAdjust="spacingAndGlyphs">1386.20</text>
<text x="1868.5" y="673" textLength="32.5" lengthAdjust="spacingAndGlyphs">1383.30</text>
<text x="1868.5" y="706" textLength="32.5" lengthAdjust="spacingAndGlyphs">1380.40</text>
<text x="1868.5" y="321" textLength="32.5" lengthAdjust="spacingAndGlyphs" style="fill:#fff">1414.28</text>
<text x="1868.5" y="345" textLength="32.5" lengthAdjust="spacingAndGlyphs" style="fill:#fff">1412.11</text>
<text x="1866.5" y="718" textLength="32.5" lengthAdjust="spacingAndGlyphs">10.3259</text>
<text x="1866.5" y="809" textLength="17.3" lengthAdjust="spacingAndGlyphs">0.00</text>
<text x="1866.5" y="872" textLength="30.6" lengthAdjust="spacingAndGlyphs">-7.3949</text>
<text x="-1.5" y="720.2" textLength="37.3" lengthAdjust="spacingAndGlyphs">W W W .</text>
<text x="38" y="720.2" textLength="65.6" lengthAdjust="spacingAndGlyphs">1 7 F O R E X .</text>
<text x="106" y="720.2" textLength="29" lengthAdjust="spacingAndGlyphs">C O M</text>
<text x="136" y="720.2" textLength="14" lengthAdjust="spacingAndGlyphs">___</text>
<text x="150" y="720.2" textLength="65.6" lengthAdjust="spacingAndGlyphs">MACD(12,26,9)</text>
<text x="219.3" y="720.2" textLength="27.7" lengthAdjust="spacingAndGlyphs">0.1905</text>
<text x="250.5" y="720.2" textLength="27.2" lengthAdjust="spacingAndGlyphs">1.1380</text>
<text x="280.9" y="720.2" textLength="27.6" lengthAdjust="spacingAndGlyphs">0.0000</text>
<text x="311.6" y="720.2" textLength="31.4" lengthAdjust="spacingAndGlyphs">-1.8949</text>
</svg></body></html>
